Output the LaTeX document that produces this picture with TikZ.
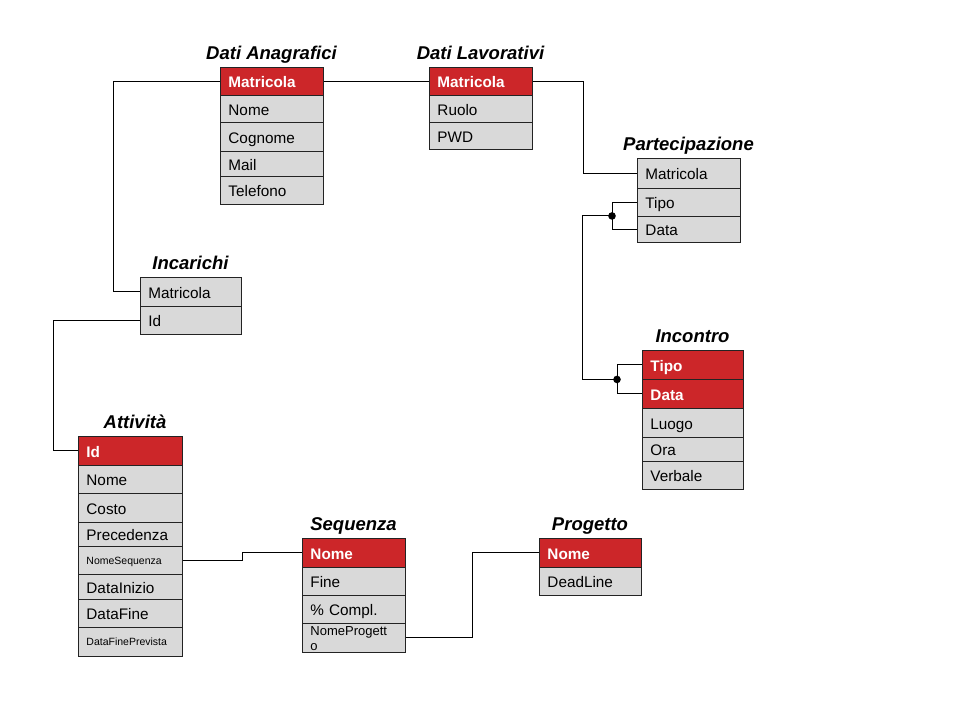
\documentclass[tikz,border=0pt]{standalone}
\usepackage{fontspec}
\setmainfont{Liberation Sans}
\usetikzlibrary{calc}
\definecolor{hdrred}{RGB}{204,38,41}
\definecolor{rowgray}{RGB}{217,217,217}
\definecolor{cellline}{RGB}{35,35,35}
\tikzset{
  cell/.style n args={2}{draw=cellline, line width=0.9pt, fill=rowgray, anchor=north west,
    inner xsep=8pt, inner ysep=0pt, text width=#1pt, minimum height=#2pt, align=left,
    font=\fontsize{15.3}{17}\selectfont, text height=12.5pt, text depth=0pt},
  hdr/.style={fill=hdrred, text=white, font=\fontsize{15.3}{17}\selectfont\bfseries},
  smalltxt/.style={font=\fontsize{10.5}{12}\selectfont, text height=8pt},
  ttl/.style={anchor=base, inner sep=0pt, font=\fontsize{18.5}{20}\selectfont\bfseries\itshape},
  conn/.style={draw=black, line width=1pt},
}
\begin{document}
\begin{tikzpicture}[x=1pt, y=-1pt]
\useasboundingbox (0,0) rectangle (960,720);
\fill[white] (0,0) rectangle (960,720);

% Dati Anagrafici
\node[ttl] (tda) at (271.5,59) {Dati Anagrafici};
\node[cell={87}{28}, hdr] (da1) at (220,67) {Matricola};
\node[cell={87}{27}] (da2) at (220,95) {Nome};
\node[cell={87}{29}] (da3) at (220,122) {Cognome};
\node[cell={87}{25}] (da4) at (220,151) {Mail};
\node[cell={87}{28}] (da5) at (220,176) {Telefono};

% Dati Lavorativi
\node[ttl] (tdl) at (480.5,59) {Dati Lavorativi};
\node[cell={87}{28}, hdr] (dl1) at (429,67) {Matricola};
\node[cell={87}{27}] (dl2) at (429,95) {Ruolo};
\node[cell={87}{27}] (dl3) at (429,122) {PWD};

% Partecipazione
\node[ttl] (tpa) at (688.5,150) {Partecipazione};
\node[cell={87}{30}] (pa1) at (637,158) {Matricola};
\node[cell={87}{28}] (pa2) at (637,188) {Tipo};
\node[cell={87}{26}] (pa3) at (637,216) {Data};

% Incarichi
\node[ttl] (tin) at (190.5,269) {Incarichi};
\node[cell={85}{29}] (in1) at (140,277) {Matricola};
\node[cell={85}{28}] (in2) at (140,306) {Id};

% Incontro
\node[ttl] (tic) at (692.5,342) {Incontro};
\node[cell={85}{29}, hdr] (ic1) at (642,350) {Tipo};
\node[cell={85}{29}, hdr] (ic2) at (642,379) {Data};
\node[cell={85}{29}] (ic3) at (642,408) {Luogo};
\node[cell={85}{24}] (ic4) at (642,437) {Ora};
\node[cell={85}{28}] (ic5) at (642,461) {Verbale};

% Attivita
\node[ttl] (tat) at (135,428) {Attività};
\node[cell={88}{29}, hdr] (at1) at (78,436) {Id};
\node[cell={88}{28}] (at2) at (78,465) {Nome};
\node[cell={88}{29}] (at3) at (78,493) {Costo};
\node[cell={88}{24}] (at4) at (78,522) {Precedenza};
\node[cell={88}{28}, smalltxt] (at5) at (78,546) {NomeSequenza};
\node[cell={88}{25}] (at6) at (78,574) {DataInizio};
\node[cell={88}{28}] (at7) at (78,599) {DataFine};
\node[cell={88}{29}, smalltxt] (at8) at (78,627) {DataFinePrevista};

% Sequenza
\node[ttl] (tsq) at (353.5,530) {Sequenza};
\node[cell={87}{29}, hdr] (sq1) at (302,538) {Nome};
\node[cell={87}{28}] (sq2) at (302,567) {Fine};
\node[cell={87}{28}] (sq3) at (302,595) {\% Compl.};
\node[cell={87}{29}, font=\fontsize{13}{15}\selectfont, text height=11pt, text depth=16pt] (sq4) at (302,623) {NomeProgett\\o};

% Progetto
\node[ttl] (tpr) at (590,530) {Progetto};
\node[cell={86}{29}, hdr] (pr1) at (539,538) {Nome};
\node[cell={86}{28}] (pr2) at (539,567) {DeadLine};

% connectors
\draw[conn] (da1.west) -- ++(-107,0) |- (in1.west);
\draw[conn] (da1.east) -- (dl1.west);
\draw[conn] (dl1.east) -- ++(51,0) |- (pa1.west);

\coordinate (fk1) at ($(pa2.west)!0.5!(pa3.west)+(-25,0)$);
\coordinate (fk2) at ($(ic1.west)!0.5!(ic2.west)+(-25,0)$);
\draw[conn] (pa2.west) -- ++(-25,0) |- (pa3.west);
\draw[conn] (ic1.west) -- ++(-25,0) |- (ic2.west);
\draw[conn] (fk1) -- ++(-30,0) |- (fk2);
\fill (fk1) circle (3.8);
\fill (fk2) circle (3.8);

\draw[conn] (in2.west) -- ++(-87,0) |- (at1.west);
\draw[conn] (at5.east) -- ++(60,0) |- (sq1.west);
\draw[conn] (sq4.east) -- ++(67,0) |- (pr1.west);
\end{tikzpicture}
\end{document}
